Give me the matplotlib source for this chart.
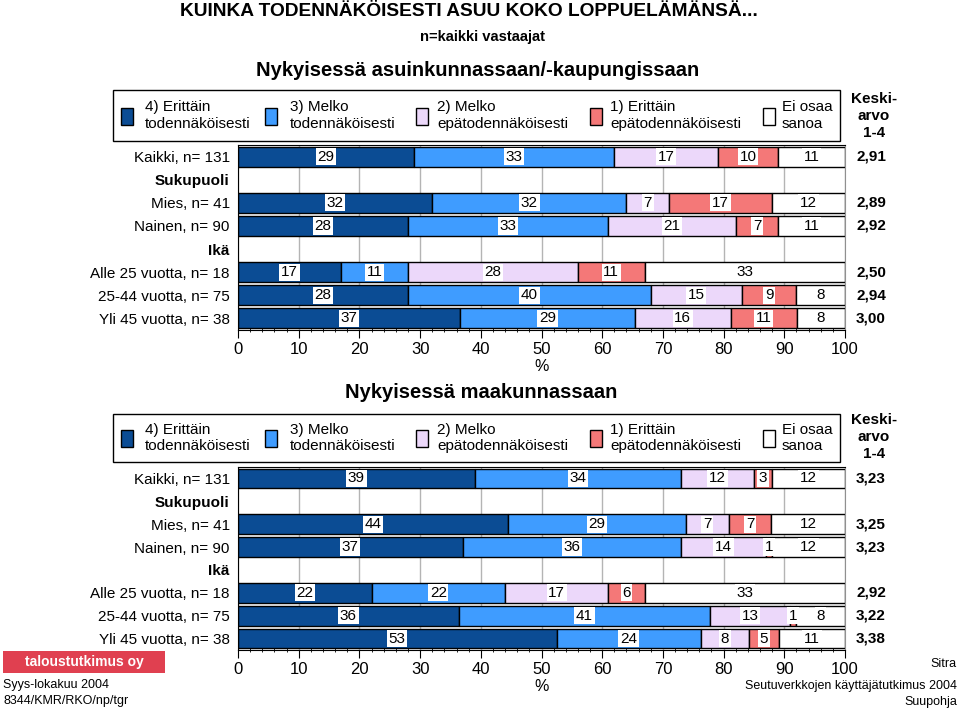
import matplotlib.pyplot as plt
from matplotlib.patches import Rectangle

plt.rcParams['font.family'] = ['Liberation Sans', 'DejaVu Sans']

# rows of both panels (header rows have no bar)
row_labels = ["Kaikki, n= 131", "Sukupuoli", "Mies, n= 41", "Nainen, n= 90",
              "Ikä", "Alle 25 vuotta, n= 18", "25-44 vuotta, n= 75", "Yli 45 vuotta, n= 38"]
header_rows = [1, 4]
bar_rows = [0, 2, 3, 5, 6, 7]

series_names = ["4) Erittäin\ntodennäköisesti", "3) Melko\ntodennäköisesti",
                "2) Melko\nepätodennäköisesti", "1) Erittäin\nepätodennäköisesti",
                "Ei osaa\nsanoa"]
colors = ["#0b4c94", "#3f9cff", "#ecd8fa", "#f47878", "#ffffff"]

# Nykyisessä asuinkunnassaan/-kaupungissaan
kunta_4 = [29, 32, 28, 17, 28, 37]
kunta_3 = [33, 32, 33, 11, 40, 29]
kunta_2 = [17, 7, 21, 28, 15, 16]
kunta_1 = [10, 17, 7, 11, 9, 11]
kunta_eos = [11, 12, 11, 33, 8, 8]
kunta_ka = ["2,91", "2,89", "2,92", "2,50", "2,94", "3,00"]

# Nykyisessä maakunnassaan
maak_4 = [39, 44, 37, 22, 36, 53]
maak_3 = [34, 29, 36, 22, 41, 24]
maak_2 = [12, 7, 14, 17, 13, 8]
maak_1 = [3, 7, 1, 6, 1, 5]
maak_eos = [12, 12, 12, 33, 8, 11]
maak_ka = ["3,23", "3,25", "3,23", "2,92", "3,22", "3,38"]

W, H = 960, 709
fig = plt.figure(figsize=(W / 100, H / 100), dpi=100)


def fx(x):
    return x / W


def fy(y):
    return 1 - y / H


def panel(top, bottom, series, means):
    ax = fig.add_axes([fx(238), fy(bottom), (845 - 238) / W, (bottom - top) / H])
    # rounded shares do not always add up to 100, the bars fill the full width
    totals = [sum(col) for col in zip(*series)]
    left = [0] * len(bar_rows)
    for vals, col in zip(series, colors):
        widths = [v * 100 / t for v, t in zip(vals, totals)]
        ax.barh(bar_rows, widths, left=left, height=0.86, color=col,
                edgecolor='black', linewidth=1, zorder=2)
        for r, l, w, v in zip(bar_rows, left, widths, vals):
            ax.text(l + w / 2, r, str(v), ha='center', va='center', fontsize=11,
                    zorder=4, bbox=dict(facecolor='white', edgecolor='none', pad=1.2))
        left = [a + b for a, b in zip(left, widths)]
    ax.set_xlim(0, 100)
    ax.set_ylim(7.5, -0.5)
    ax.set_xticks(range(0, 101, 10))
    ax.set_xticks(range(0, 101, 2), minor=True)
    ax.tick_params(axis='x', which='major', length=6, labelsize=12, pad=3)
    ax.tick_params(axis='x', which='minor', length=3, direction='inout')
    ax.set_yticks(range(len(row_labels)))
    ax.set_yticklabels(row_labels, fontsize=11)
    for i in header_rows:
        ax.get_yticklabels()[i].set_fontweight('bold')
    ax.tick_params(axis='y', length=0, pad=6)
    ax.xaxis.grid(True, color='#b4b4b4', linewidth=1, zorder=0)
    ax.set_axisbelow(True)
    ax.spines['right'].set_color('#909090')
    ax.set_xlabel('%', fontsize=11.5, labelpad=1)
    for r, m in zip(bar_rows, means):
        ax.text((871 - 238) / 607, r, m, transform=ax.get_yaxis_transform(),
                ha='center', va='center', fontsize=11, fontweight='bold')
    return ax


def legend_box(top, bottom, keski_y):
    fig.patches.append(Rectangle((fx(113), fy(bottom)), (840 - 113) / W, (bottom - top) / H,
                                 transform=fig.transFigure, facecolor='white',
                                 edgecolor='black', linewidth=1))
    mid = (top + bottom) / 2
    marker_x = [121, 265, 416, 590, 763]
    text_x = [145, 290, 437, 610, 782]
    for mx, tx, name, col in zip(marker_x, text_x, series_names, colors):
        fig.patches.append(Rectangle((fx(mx), fy(mid + 9)), 12 / W, 17 / H,
                                     transform=fig.transFigure, facecolor=col,
                                     edgecolor='black', linewidth=1))
        fig.text(fx(tx), fy(mid), name, ha='left', va='center', fontsize=11,
                 linespacing=1.2)
    fig.text(fx(874), fy(keski_y), "Keski-\narvo\n1-4", ha='center', va='center',
             fontsize=11, fontweight='bold', linespacing=1.3)


panel(145, 330, [kunta_4, kunta_3, kunta_2, kunta_1, kunta_eos], kunta_ka)
panel(467, 650, [maak_4, maak_3, maak_2, maak_1, maak_eos], maak_ka)
legend_box(90, 141, 116)
legend_box(414, 462, 437)

fig.text(fx(180), fy(12), "KUINKA TODENNÄKÖISESTI ASUU KOKO LOPPUELÄMÄNSÄ...",
         ha='left', va='center', fontsize=13.8, fontweight='bold')
fig.text(fx(482), fy(37), "n=kaikki vastaajat", ha='center', va='center',
         fontsize=10.6, fontweight='bold')
fig.text(fx(478), fy(70), "Nykyisessä asuinkunnassaan/-kaupungissaan", ha='center',
         va='center', fontsize=14.5, fontweight='bold')
fig.text(fx(481), fy(393), "Nykyisessä maakunnassaan", ha='center', va='center',
         fontsize=14.5, fontweight='bold')

# logo
fig.patches.append(Rectangle((fx(3), fy(673)), 162 / W, 22 / H, transform=fig.transFigure,
                             facecolor='#e04050', edgecolor='none'))
fig.text(fx(84), fy(662), "taloustutkimus oy", ha='center', va='center', fontsize=10,
         fontweight='bold', color='white')

fig.text(fx(3), fy(685), "Syys-lokakuu 2004", ha='left', va='center', fontsize=9)
fig.text(fx(3), fy(701), "8344/KMR/RKO/np/tgr", ha='left', va='center', fontsize=9)
fig.text(fx(957), fy(664), "Sitra", ha='right', va='center', fontsize=9)
fig.text(fx(957), fy(686), "Seutuverkkojen käyttäjätutkimus 2004", ha='right',
         va='center', fontsize=9)
fig.text(fx(957), fy(702), "Suupohja", ha='right', va='center', fontsize=9)

fig.savefig("out.png", dpi=100)
